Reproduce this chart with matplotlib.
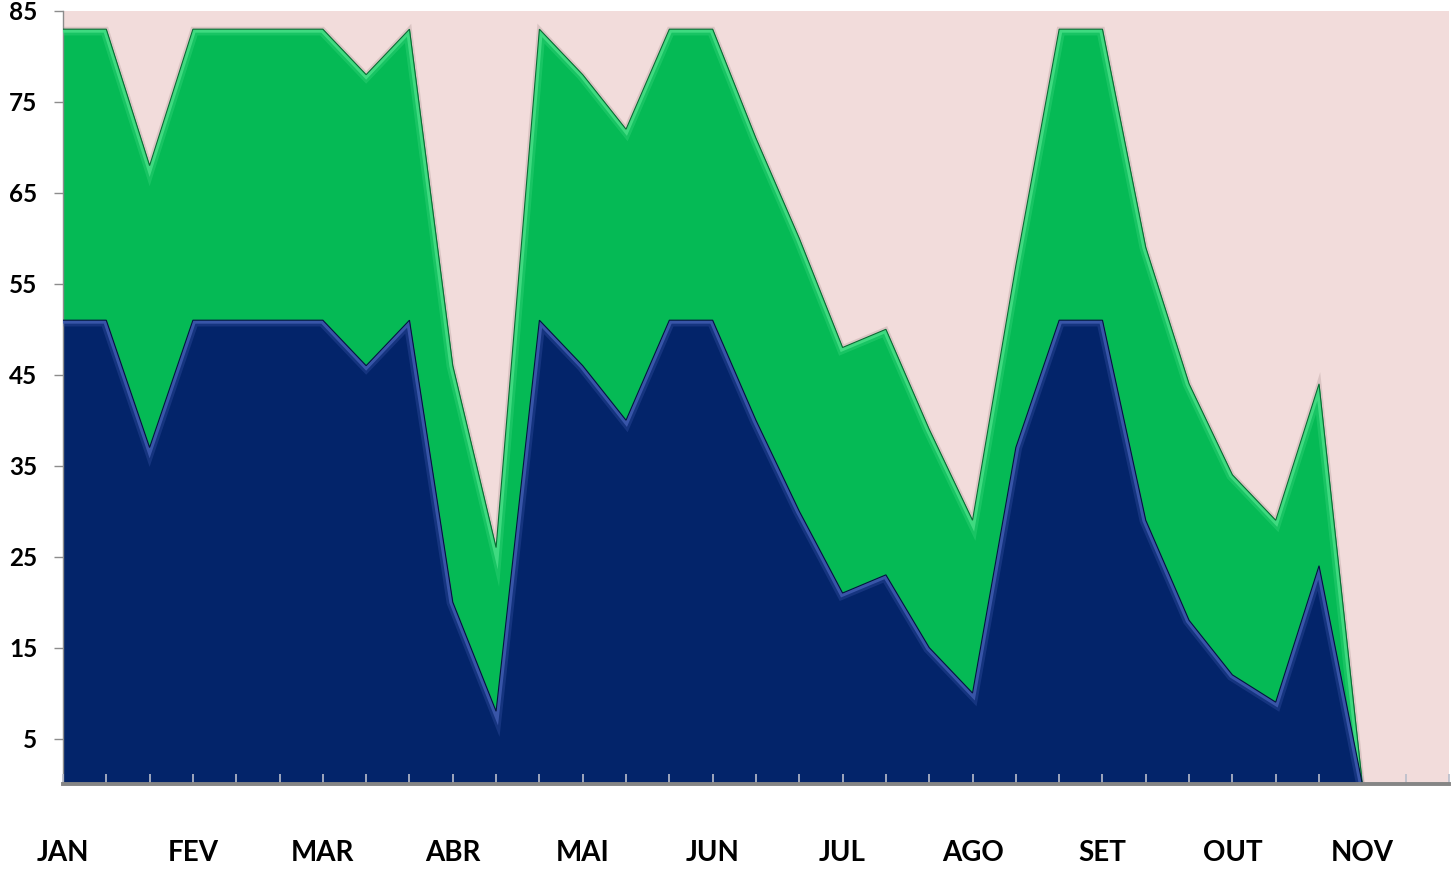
import numpy as np
import matplotlib.pyplot as plt

# monthly labels sit on every third category
months = ['JAN', 'FEV', 'MAR', 'ABR', 'MAI', 'JUN', 'JUL', 'AGO', 'SET', 'OUT', 'NOV']
n_categories = 33

# stacked series (bottom = navy, top = green)
navy_values = [51, 51, 37, 51, 51, 51, 51, 46, 51, 20, 8, 51, 46, 40, 51, 51,
               40, 30, 21, 23, 15, 10, 37, 51, 51, 29, 18, 12, 9, 24, 0]
green_values = [32, 32, 31, 32, 32, 32, 32, 32, 32, 26, 18, 32, 32, 32, 32, 32,
                31, 30, 27, 27, 24, 19, 20, 32, 32, 30, 26, 22, 20, 20, 0]

y_ticks = [5, 15, 25, 35, 45, 55, 65, 75, 85]

PINK = '#F2DCDB'
GREEN = '#05BA55'
NAVY = '#03246A'

plt.rcParams['font.family'] = ['Lato', 'DejaVu Sans']
plt.rcParams['font.weight'] = 'bold'

fig = plt.figure(figsize=(14.51, 8.72), dpi=100)
ax = fig.add_axes([0.0434, 0.1009, 0.9552, 0.8865])
ax.set_facecolor(PINK)

x = np.arange(len(navy_values))
navy = np.array(navy_values, dtype=float)
total = navy + np.array(green_values, dtype=float)


def bevel_area(lower, upper, face, light, dark):
    # soft shadow around the upper edge
    ax.plot(x, upper, color='#8a7170', lw=3.5, alpha=0.22, zorder=1.5,
            solid_joinstyle='miter')
    area = ax.fill_between(x, lower, upper, color=face, lw=0, zorder=2)
    clip = area.get_paths()[0]
    # light strip just inside the top edge
    for lw, alpha in [(9, 0.3), (5, 0.85)]:
        hl, = ax.plot(x, upper, color=light, lw=lw, alpha=alpha, zorder=3,
                      solid_joinstyle='miter')
        hl.set_clip_path(clip, transform=ax.transData)
    ax.plot(x, upper, color=dark, lw=0.8, zorder=4, solid_joinstyle='miter')


bevel_area(navy, total, GREEN, '#47DE86', '#0A6B34')
bevel_area(np.zeros_like(navy), navy, NAVY, '#3F5BB0', '#01143F')

ax.set_xlim(0, n_categories - 1)
ax.set_ylim(0, 85)
ax.set_yticks(y_ticks)
ax.tick_params(axis='y', direction='out', length=6.5, width=1, color='#8C8C8C',
               labelsize=17.5, pad=12, labelcolor='black')

tick_labels = [months[i // 3] if i % 3 == 0 else '' for i in range(n_categories)]
ax.set_xticks(range(n_categories))
ax.set_xticklabels(tick_labels)
ax.tick_params(axis='x', direction='in', length=7, width=1.2, color='#B9BDCB',
               labelsize=20, pad=40, labelcolor='black')
for tick in ax.xaxis.get_major_ticks():
    tick.tick1line.set_zorder(6)

for side in ['top', 'right']:
    ax.spines[side].set_visible(False)
ax.spines['left'].set_color('#8C8C8C')
ax.spines['left'].set_linewidth(1)
ax.spines['bottom'].set_color('#858585')
ax.spines['bottom'].set_linewidth(2.8)
ax.spines['bottom'].set_zorder(5)
ax.set_axisbelow(False)

fig.savefig('out.png', dpi=100, facecolor='white')
